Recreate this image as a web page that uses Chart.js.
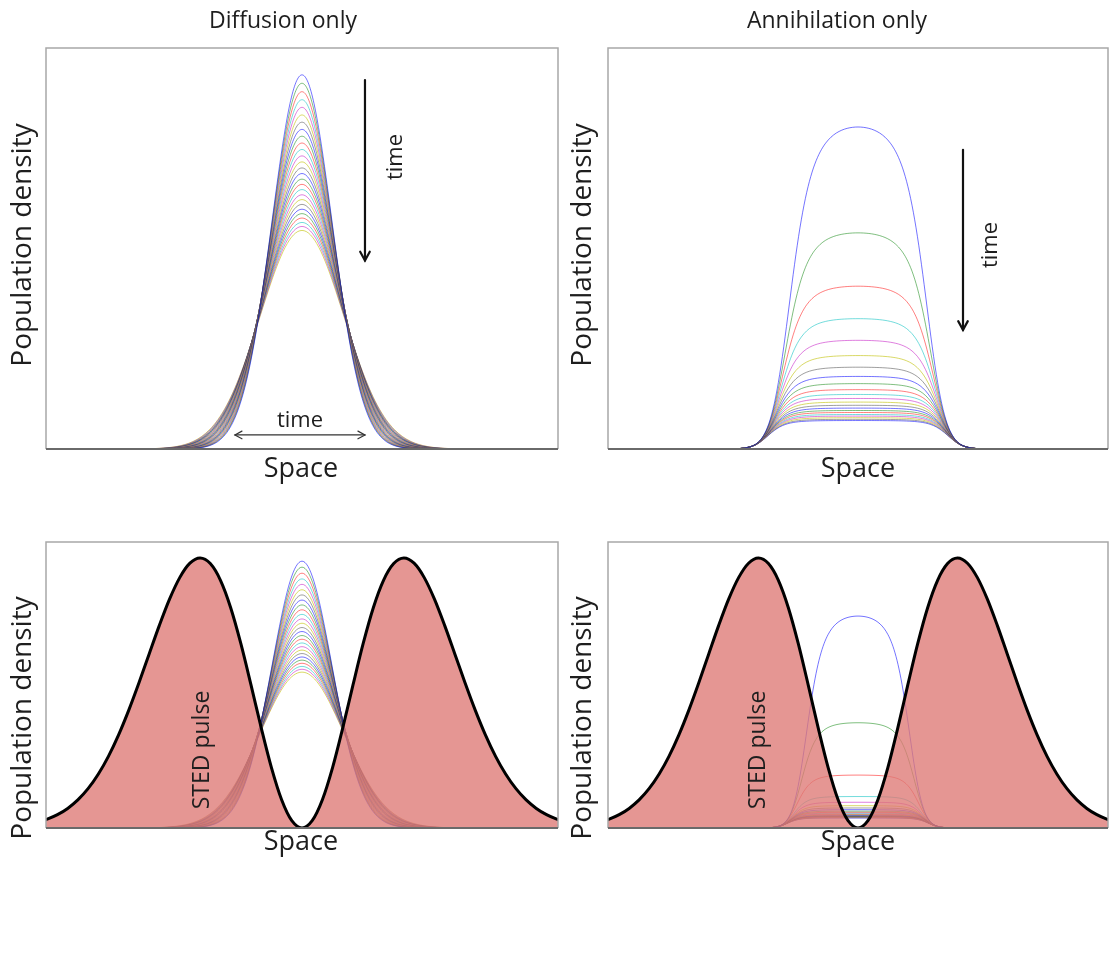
<!DOCTYPE html>
<html lang="en">
<head>
  <meta charset="UTF-8">
  <title>Diffusion and annihilation</title>
  <script src="https://cdn.jsdelivr.net/npm/chart.js"></script>
  <style>
    html, body { margin: 0; padding: 0; background: #fff; }
    #page { position: relative; width: 1110px; height: 971px; }
    .panel { position: absolute; }
  </style>
</head>
<body>
<div id="page">
  <div class="panel" style="left:0;top:0;width:560px;height:500px"><canvas id="diffTop"></canvas></div>
  <div class="panel" style="left:560px;top:0;width:550px;height:500px"><canvas id="annTop"></canvas></div>
  <div class="panel" style="left:0;top:500px;width:560px;height:471px"><canvas id="diffSted"></canvas></div>
  <div class="panel" style="left:560px;top:500px;width:550px;height:471px"><canvas id="annSted"></canvas></div>
</div>

<script>
  /* ---------- data ---------- */
  // bell-shaped population profile, one side, in units of its width (mirrored below)
  const pulseU     = [0, 0.1, 0.2, 0.3, 0.4, 0.5, 0.6, 0.7, 0.8, 0.9, 1.0, 1.1, 1.2, 1.3, 1.4, 1.5,
                      1.6, 1.7, 1.8, 1.9, 2.0, 2.1, 2.2, 2.3, 2.4, 2.5, 2.6, 2.7, 2.8, 2.9, 3.0,
                      3.1, 3.2, 3.3, 3.4, 3.5, 3.6, 3.7, 3.8, 3.9, 4.0, 4.2, 4.4, 4.6];
  const pulseShape = [1, 0.99501, 0.98020, 0.95600, 0.92312, 0.88250, 0.83527, 0.78270, 0.72615,
                      0.66698, 0.60653, 0.54607, 0.48675, 0.42955, 0.37531, 0.32465, 0.27804,
                      0.23575, 0.19790, 0.16447, 0.13534, 0.11025, 0.08892, 0.07100, 0.05613,
                      0.04394, 0.03405, 0.02612, 0.01984, 0.01492, 0.01111, 0.00819, 0.00598,
                      0.00432, 0.00309, 0.00219, 0.00153, 0.00106, 0.00073, 0.00050, 0.00034,
                      0.00015, 0.00006, 0.00003];

  // peak and width of every diffusion trace, earliest first
  const diffusionPeaks  = [0.933, 0.912, 0.891, 0.871, 0.852, 0.833, 0.815, 0.797, 0.780, 0.763,
                           0.747, 0.731, 0.716, 0.701, 0.687, 0.673, 0.660, 0.647, 0.634, 0.622,
                           0.610, 0.598, 0.587, 0.576, 0.565, 0.555, 0.545];
  const diffusionWidths = [0.1175, 0.1192, 0.1209, 0.1226, 0.1243, 0.1261, 0.1278, 0.1296, 0.1313,
                           0.1331, 0.1349, 0.1367, 0.1385, 0.1403, 0.1420, 0.1439, 0.1456, 0.1474,
                           0.1493, 0.1511, 0.1529, 0.1548, 0.1566, 0.1584, 0.1604, 0.1622, 0.1640];

  // peak of every annihilation trace, earliest first
  const annihilationPeaks     = [0.803, 0.539, 0.406, 0.325, 0.271, 0.233, 0.204, 0.181, 0.163,
                                 0.148, 0.136, 0.126, 0.117, 0.109, 0.102, 0.096, 0.091, 0.086,
                                 0.082, 0.078, 0.074, 0.071];
  const annihilationPeaksSted = [0.741, 0.368, 0.185, 0.110, 0.090, 0.078, 0.070, 0.064, 0.059,
                                 0.055, 0.052, 0.049, 0.047, 0.045, 0.043, 0.041, 0.040, 0.039,
                                 0.038, 0.037, 0.036, 0.035];
  const initialAmplitude      = 16;
  const annihilationWidth     = 0.108;
  const annihilationWidthSted = 0.08;

  // STED doughnut: one lobe, from the central zero outward (unit peak)
  const stedU     = [0, 0.1, 0.2, 0.3, 0.4, 0.5, 0.6, 0.7, 0.8, 0.9, 1.0, 1.1, 1.2, 1.3, 1.4,
                     1.5, 1.6, 1.7, 1.8, 1.9, 2.0, 2.1, 2.2, 2.3, 2.4, 2.5, 2.6, 2.7];
  const stedShape = [0, 0.0269, 0.1045, 0.2236, 0.3706, 0.5292, 0.6827, 0.8160, 0.9173, 0.9793,
                     1, 0.9808, 0.9274, 0.8477, 0.7505, 0.6446, 0.5379, 0.4366, 0.3450, 0.2654,
                     0.1991, 0.1456, 0.1040, 0.0725, 0.0493, 0.0328, 0.0213, 0.0135];
  const stedPeak  = 0.944;
  const stedWidth = 0.398;

  // classic plot colour cycle
  const traceColors = ['rgba(0,0,255,0.55)', 'rgba(0,128,0,0.5)', 'rgba(255,0,0,0.5)',
                       'rgba(0,191,191,0.55)', 'rgba(191,0,191,0.5)', 'rgba(191,191,0,0.6)',
                       'rgba(64,64,64,0.5)'];

  /* ---------- helpers ---------- */
  const mirror = (u, v) => ({
    u: u.slice(1).reverse().map(t => -t).concat(u),
    v: v.slice(1).reverse().concat(v)
  });
  const pulse = mirror(pulseU, pulseShape);
  const sted  = mirror(stedU, stedShape);

  const trace = (pts, i) => ({
    data: pts, borderColor: traceColors[i % traceColors.length], borderWidth: 1,
    pointRadius: 0, fill: false, cubicInterpolationMode: 'monotone'
  });

  function diffusionSets () {
    return diffusionPeaks.map((h, i) =>
      trace(pulse.u.map((u, k) => ({ x: u * diffusionWidths[i], y: pulse.v[k] * h })), i));
  }

  function annihilationSets (peaks, width) {
    const A = initialAmplitude;
    return peaks.map((v, i) => {
      const c = 1 / v - 1 / A;
      return trace(pulse.u.map((u, k) => {
        const n0 = A * pulse.v[k];
        return { x: u * width, y: n0 / (1 + c * n0) };
      }), i);
    });
  }

  function stedSet () {
    return {
      data: sted.u.map((u, k) => ({ x: u * stedWidth, y: sted.v[k] * stedPeak })),
      borderColor: '#000', borderWidth: 3, pointRadius: 0,
      backgroundColor: 'rgba(222,120,116,0.78)', fill: 'origin',
      cubicInterpolationMode: 'monotone'
    };
  }

  /* ---------- frame, labels and arrows ---------- */
  const panelDecor = {
    id: 'panelDecor',
    afterDraw (chart, args, opts) {
      const { ctx, chartArea: a, scales: { x, y } } = chart;
      ctx.save();
      ctx.strokeStyle = '#a8a8a8';
      ctx.lineWidth = 1.5;
      ctx.beginPath();
      ctx.moveTo(a.left, a.bottom); ctx.lineTo(a.left, a.top);
      ctx.lineTo(a.right, a.top);   ctx.lineTo(a.right, a.bottom);
      ctx.stroke();
      ctx.strokeStyle = '#6a6a6a';
      ctx.lineWidth = 2;
      ctx.beginPath();
      ctx.moveTo(a.left, a.bottom); ctx.lineTo(a.right, a.bottom);
      ctx.stroke();

      ctx.fillStyle = '#1e1e1e';
      ctx.textAlign = 'center';
      ctx.textBaseline = 'middle';
      (opts.labels || []).forEach(t => {
        ctx.save();
        ctx.font = t.font;
        ctx.translate(t.x, t.y);
        if (t.vertical) ctx.rotate(-Math.PI / 2);
        ctx.fillText(t.text, 0, 0);
        ctx.restore();
      });

      (opts.arrows || []).forEach(ar => {
        const x0 = x.getPixelForValue(ar.from[0]), y0 = y.getPixelForValue(ar.from[1]);
        const x1 = x.getPixelForValue(ar.to[0]),   y1 = y.getPixelForValue(ar.to[1]);
        ctx.strokeStyle = ar.color;
        ctx.lineWidth = ar.width;
        ctx.lineCap = 'round';
        ctx.beginPath(); ctx.moveTo(x0, y0); ctx.lineTo(x1, y1); ctx.stroke();
        const head = (px, py, qx, qy) => {
          const ang = Math.atan2(py - qy, px - qx);
          ctx.beginPath();
          ctx.moveTo(px - ar.head * Math.cos(ang - 0.5), py - ar.head * Math.sin(ang - 0.5));
          ctx.lineTo(px, py);
          ctx.lineTo(px - ar.head * Math.cos(ang + 0.5), py - ar.head * Math.sin(ang + 0.5));
          ctx.stroke();
        };
        head(x1, y1, x0, y0);
        if (ar.both) head(x0, y0, x1, y1);
      });
      ctx.restore();
    }
  };

  function makeChart (id, datasets, pad, decor) {
    return new Chart(document.getElementById(id), {
      type: 'line',
      data: { datasets },
      options: {
        responsive: true,
        maintainAspectRatio: false,
        animation: false,
        events: [],
        layout: { padding: pad },
        scales: {
          x: { type: 'linear', min: -1, max: 1, display: false },
          y: { min: 0, max: 1, display: false }
        },
        plugins: { legend: { display: false }, tooltip: { enabled: false }, panelDecor: decor }
      },
      plugins: [panelDecor]
    });
  }

  const FONT = '"Open Sans", "DejaVu Sans", sans-serif';
  const yLabel = (cy) => ({ text: 'Population density', x: 23, y: cy, vertical: true, font: `28px ${FONT}` });

  /* ---------- Diffusion only ---------- */
  makeChart('diffTop', diffusionSets(), { left: 46, top: 48, right: 2, bottom: 51 }, {
    labels: [
      { text: 'Diffusion only', x: 283, y: 21, font: `23px ${FONT}` },
      yLabel(245),
      { text: 'Space', x: 301, y: 469, font: `27px ${FONT}` },
      { text: 'time', x: 300, y: 421, font: `22px ${FONT}` },
      { text: 'time', x: 396, y: 157, vertical: true, font: `22px ${FONT}` }
    ],
    arrows: [
      { from: [0.246, 0.92], to: [0.246, 0.47], color: '#111', width: 2.2, head: 10 },
      { from: [-0.262, 0.035], to: [0.246, 0.035], color: '#333', width: 1.2, head: 8, both: true }
    ]
  });

  /* ---------- Annihilation only ---------- */
  makeChart('annTop', annihilationSets(annihilationPeaks, annihilationWidth),
    { left: 48, top: 48, right: 2, bottom: 51 }, {
    labels: [
      { text: 'Annihilation only', x: 277, y: 21, font: `23px ${FONT}` },
      yLabel(245),
      { text: 'Space', x: 298, y: 469, font: `27px ${FONT}` },
      { text: 'time', x: 431, y: 245, vertical: true, font: `22px ${FONT}` }
    ],
    arrows: [
      { from: [0.42, 0.746], to: [0.42, 0.297], color: '#111', width: 2.2, head: 10 }
    ]
  });

  /* ---------- Diffusion with STED pulse ---------- */
  makeChart('diffSted', [stedSet(), ...diffusionSets()],
    { left: 46, top: 42, right: 2, bottom: 143 }, {
    labels: [
      yLabel(218),
      { text: 'Space', x: 301, y: 342, font: `27px ${FONT}` },
      { text: 'STED pulse', x: 202, y: 250, vertical: true, font: `23px ${FONT}` }
    ]
  });

  /* ---------- Annihilation with STED pulse ---------- */
  makeChart('annSted', [stedSet(), ...annihilationSets(annihilationPeaksSted, annihilationWidthSted)],
    { left: 48, top: 42, right: 2, bottom: 143 }, {
    labels: [
      yLabel(218),
      { text: 'Space', x: 298, y: 342, font: `27px ${FONT}` },
      { text: 'STED pulse', x: 198, y: 250, vertical: true, font: `23px ${FONT}` }
    ]
  });
</script>
</body>
</html>
